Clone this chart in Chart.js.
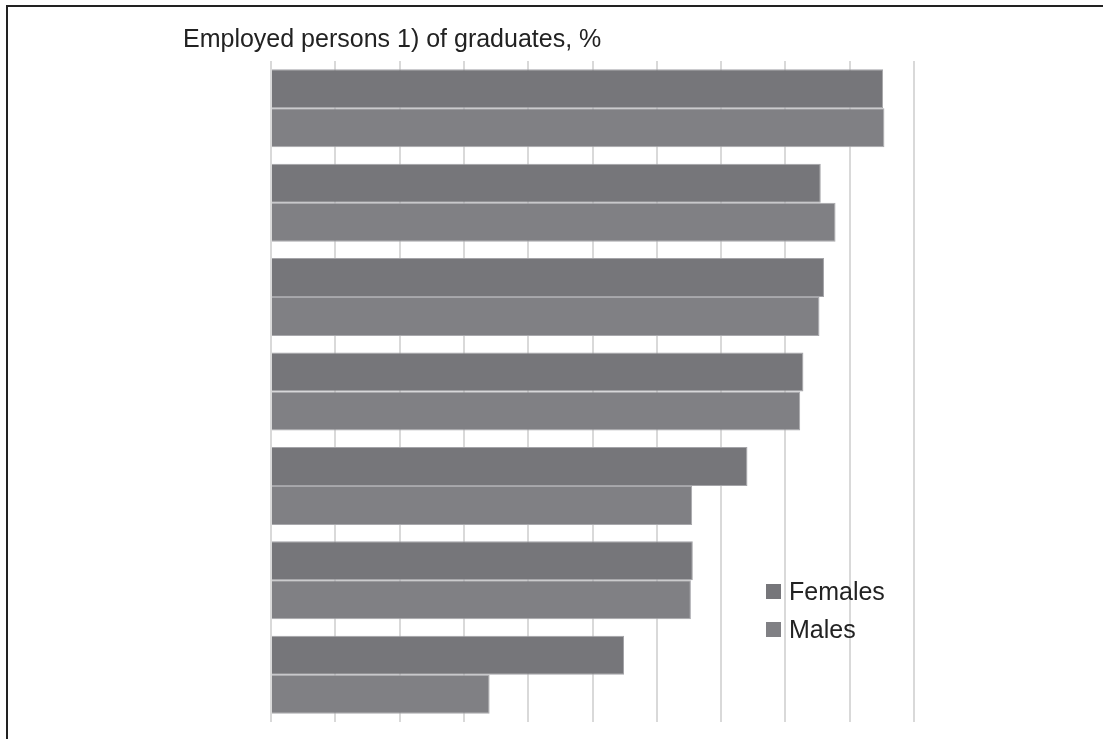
<!DOCTYPE html>
<html>
<head>
<meta charset="utf-8">
<script src="https://cdn.jsdelivr.net/npm/chart.js@4.4.0/dist/chart.umd.min.js"></script>
<style>
  html, body { margin: 0; padding: 0; background: #fff; overflow: hidden; }
  #frame { position: absolute; left: 6px; top: 5px; width: 1200px; height: 900px; border: 2px solid #222; box-sizing: border-box; }
  #wrap { position: absolute; left: 0; top: 0; width: 1103px; height: 739px; }
</style>
</head>
<body>
<div id="frame"></div>
<div id="wrap"><canvas id="c" width="1103" height="739"></canvas></div>
<script>
const chartTitle = "Employed persons 1) of graduates, %";
const categories = ["1", "2", "3", "4", "5", "6", "7"];
const seriesNames = ["Females", "Males"];
const females = [95.2, 85.5, 86.0, 82.8, 74.1, 65.6, 54.9];
const males   = [95.4, 87.8, 85.3, 82.3, 65.5, 65.3, 34.0];
const xMin = 0, xMax = 100, xStep = 10;

const femaleColor = "#76767a";
const maleColor = "#808084";

const overlay = {
  id: "overlay",
  afterDraw(chart) {
    const ctx = chart.ctx;
    ctx.save();
    ctx.fillStyle = "#222";
    ctx.font = "25px 'Liberation Sans', Arial, sans-serif";
    ctx.textBaseline = "alphabetic";
    ctx.textAlign = "left";
    ctx.fillText(chartTitle, 183, 47);
    // legend
    const ys = [600, 638];
    chart.data.datasets.forEach((ds, i) => {
      ctx.fillStyle = ds.backgroundColor;
      ctx.fillRect(766, ys[i] - 16, 15, 15);
      ctx.fillStyle = "#222";
      ctx.fillText(ds.label, 789, ys[i]);
    });
    ctx.restore();
  }
};

new Chart(document.getElementById("c"), {
  type: "bar",
  data: {
    labels: categories,
    datasets: [
      { label: seriesNames[0], data: females, backgroundColor: femaleColor, borderColor: "#a4a4a8", borderWidth: 1, borderSkipped: "start" },
      { label: seriesNames[1], data: males, backgroundColor: maleColor, borderColor: "#a8a8ac", borderWidth: 1, borderSkipped: "start" }
    ]
  },
  options: {
    indexAxis: "y",
    responsive: false,
    animation: false,
    categoryPercentage: 0.826,
    barPercentage: 1.0,
    layout: { padding: { left: 271, top: 61, right: 189, bottom: 17 } },
    plugins: { legend: { display: false }, title: { display: false }, tooltip: { enabled: false } },
    scales: {
      x: {
        min: xMin, max: xMax,
        ticks: { display: false, stepSize: xStep },
        grid: { color: "#d9d9d9", lineWidth: 2, drawTicks: false },
        border: { display: false }
      },
      y: {
        display: false
      }
    }
  },
  plugins: [overlay]
});
</script>
</body>
</html>
